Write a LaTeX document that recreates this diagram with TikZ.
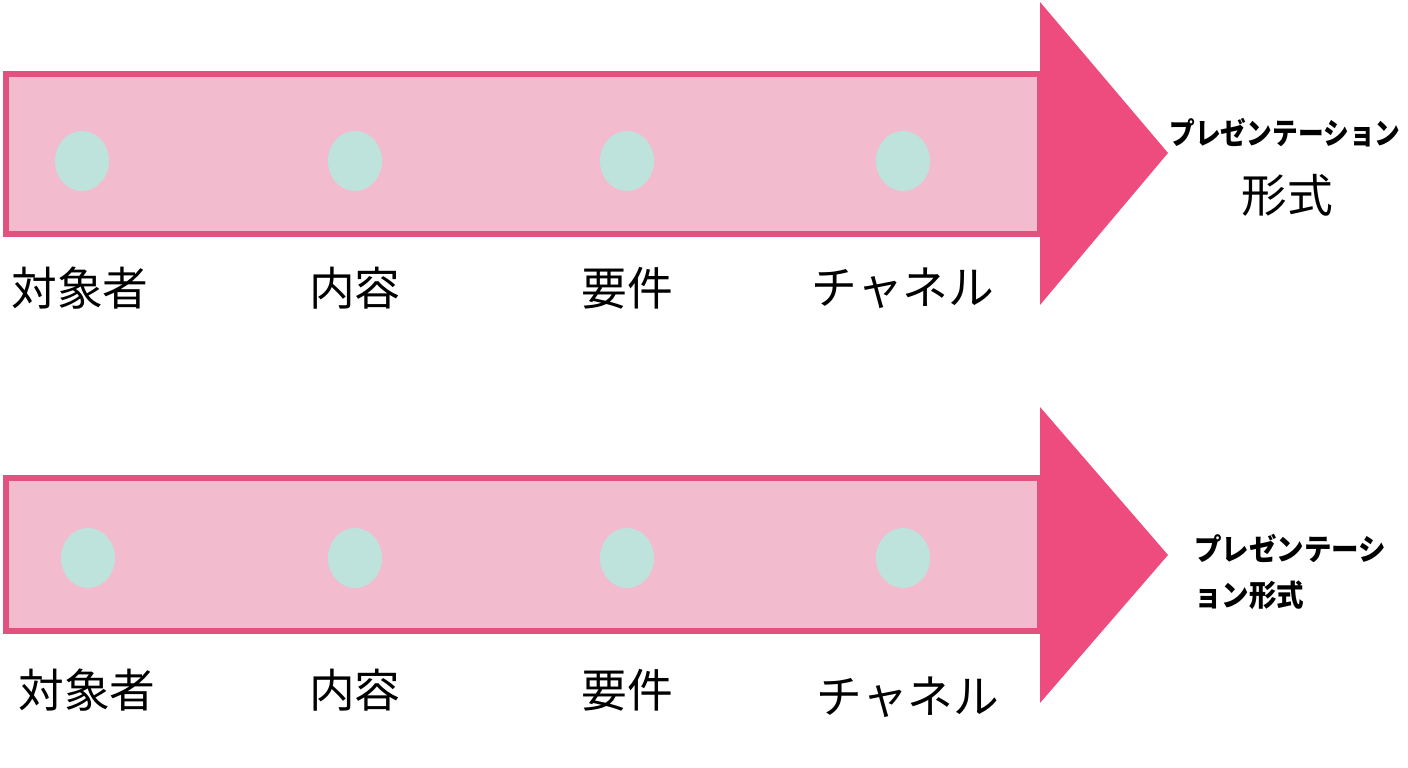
\documentclass[tikz,border=0pt]{standalone}
\usepackage{fontspec}
\newfontfamily\cjk{Noto Sans CJK JP}
\definecolor{barfill}{HTML}{F3BBCE}
\definecolor{barline}{HTML}{E2527F}
\definecolor{headfill}{HTML}{EE4B7E}
\definecolor{dotfill}{HTML}{BDE3DC}
\begin{document}
\begin{tikzpicture}[x = 0.01cm, y = -0.01cm,
	bar/.style = {draw = barline, line width = 1.7pt, fill = barfill},
	head/.style = {fill = headfill},
	stage/.style = {font = \cjk\fontsize{13}{15}\selectfont, text = black},
	goal/.style = {font = \cjk\bfseries\fontsize{8.5}{13}\selectfont, align = center}]

% Frame

\useasboundingbox (0, 0) rectangle (1408, 768);

% Upper arrow

\draw [bar] (6, 74) rectangle (1040, 234);
\fill [head] (1040, 2) -- (1168, 153) -- (1040, 305) -- cycle;
\foreach \x in {82, 355, 627, 903}
	\fill [dotfill] (\x, 161) ellipse (27 and 30);
\node [stage] (a1) at (80, 288) {対象者};
\node [stage] (a2) at (355, 288) {内容};
\node [stage] (a3) at (627, 288) {要件};
\node [stage] (a4) at (903, 288) {チャネル};
\node [goal, xscale = 0.86, transform shape] (ga) at (1285, 133) {プレゼンテーション};
\node [font = \cjk\fontsize{13}{15}\selectfont] (gb) at (1287, 195) {形式};

% Lower arrow

\draw [bar] (6, 478) rectangle (1040, 631);
\fill [head] (1040, 407) -- (1168, 555) -- (1040, 703) -- cycle;
\foreach \x in {88, 355, 627, 903}
	\fill [dotfill] (\x, 558) ellipse (27 and 30);
\node [stage] (b1) at (87, 690) {対象者};
\node [stage] (b2) at (355, 690) {内容};
\node [stage] (b3) at (627, 690) {要件};
\node [stage] (b4) at (908, 697) {チャネル};
\node [goal, align = left, xscale = 0.92, transform shape] (gc) at (1290, 572) {プレゼンテーシ\\ョン形式};

\end{tikzpicture}
\end{document}
